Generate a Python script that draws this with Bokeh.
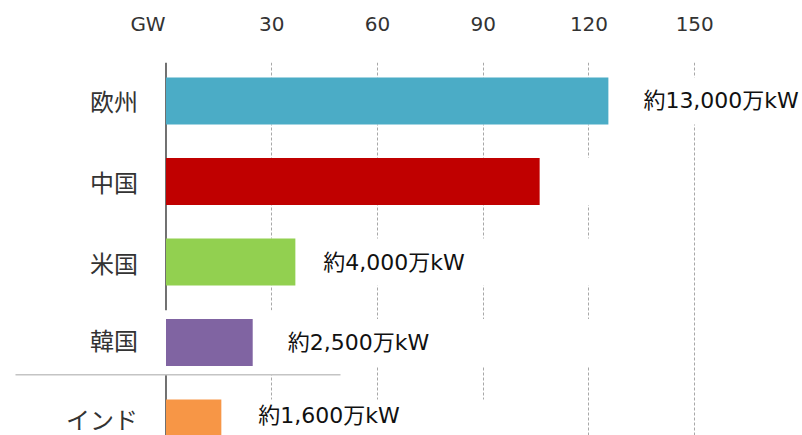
from bokeh.plotting import figure
from bokeh.models import Range1d, FixedTicker, ColumnDataSource
from bokeh.core.properties import value
from bokeh.embed import file_html
from bokeh.resources import INLINE

# ---- data ----
categories = ["欧州", "中国", "米国", "韓国", "インド"]
capacity_gw = [125.5, 106.0, 36.7, 24.6, 15.7]
value_labels = ["約13,000万kW", "", "約4,000万kW", "約2,500万kW", "約1,600万kW"]
tick_values = [30, 60, 90, 120, 150]
axis_unit = "GW"

# ---- style ----
bar_colors = ["#4BACC6", "#C00000", "#92D050", "#8064A2", "#F79646"]
mask_right = [181, 135, 135, 135, 105]      # white row bands that hide the grid
label_dx = [35, 0, 28, 35, 37]
label_dy = [0, 0, 0, 0, -8]
cat_dy = [0, 0, 0, -3, -5]
bar_h = 0.584
unit_pos = -5.1                              # where the unit sits on the top scale

rows = list(range(len(categories)))
x_lo, x_hi = -46.95, 180.57
y_top, y_bot = -0.478, 4.155

p = figure(width=802, height=435, output_backend="svg", toolbar_location=None,
           x_range=Range1d(x_lo, x_hi), y_range=Range1d(y_bot, y_top),
           x_axis_location="above", y_axis_location=None,
           min_border_left=0, min_border_right=0, min_border_bottom=0, min_border_top=62)
p.outline_line_color = None
p.background_fill_color = "white"
p.border_fill_color = "white"

p.xaxis.ticker = FixedTicker(ticks=[unit_pos] + tick_values)
p.xaxis.major_label_overrides = {unit_pos: axis_unit}
p.xgrid.ticker = FixedTicker(ticks=tick_values)
p.xgrid.grid_line_color = "#a8a8a8"
p.xgrid.grid_line_dash = "3 2"
p.xgrid.grid_line_width = 1
p.ygrid.visible = False
ax = p.xaxis[0]
ax.axis_line_color = None
ax.major_tick_line_color = None
ax.minor_tick_line_color = None
ax.major_label_text_font = "DejaVu Sans"
ax.major_label_text_font_size = "20px"
ax.major_label_text_color = "#333333"
ax.major_label_standoff = 21

src = ColumnDataSource(dict(y=rows, v=capacity_gw, cat=categories, lab=value_labels,
                            col=bar_colors, mask=mask_right, dx=label_dx, dy=label_dy,
                            cdy=cat_dy))

# white row bands hiding the grid
p.hbar(y="y", left=0, right="mask", height=bar_h, source=src,
       fill_color="white", line_color=None)
# vertical axis line
p.segment(x0=[0], y0=[y_top], x1=[0], y1=[y_bot], line_color="#262626", line_width=1.3)
# pasted white box around the Korea row
k = categories.index("韓国")
p.quad(left=[-42.7], right=[49.5], top=[k - 0.4], bottom=[k + 0.4],
       fill_color="white", line_color=None)
p.segment(x0=[-42.7], x1=[49.5], y0=[k + 0.4], y1=[k + 0.4],
          line_color="#c4c4c4", line_width=1.5)

# bars
p.hbar(y="y", left=0, right="v", height=bar_h, source=src,
       fill_color="col", line_color=None)

# category labels
p.text(x=0, y="y", text="cat", source=src, x_offset=-28, y_offset="cdy",
       text_align="right", text_baseline="middle",
       text_font=value("Noto Sans CJK JP"), text_font_size="24px", text_color="#333333")

# value labels
p.text(x="v", y="y", text="lab", source=src, x_offset="dx", y_offset="dy",
       text_align="left", text_baseline="middle",
       text_font=value("DejaVu Sans, Noto Sans CJK JP"), text_font_size="22px",
       text_color="#111111")

open("out.html", "w").write(file_html(p, INLINE))
